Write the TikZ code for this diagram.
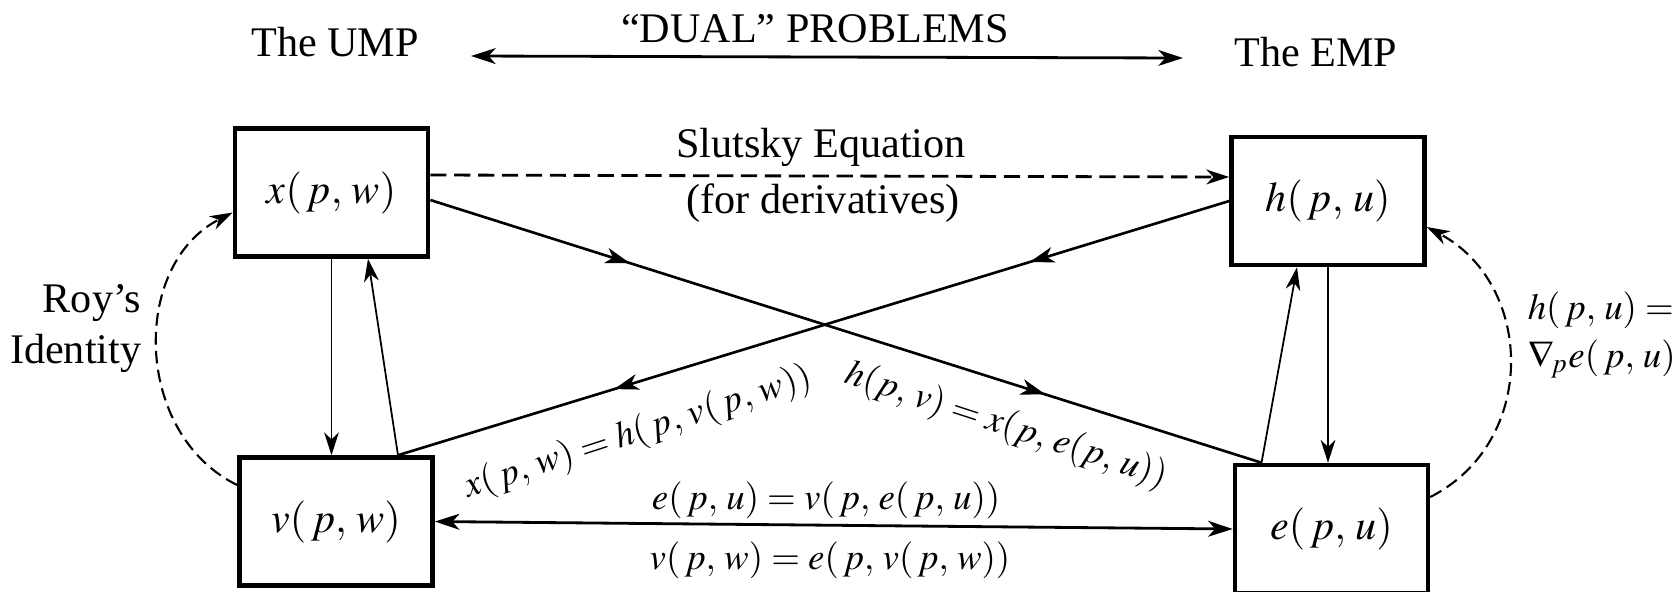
\documentclass[12pt,tikz,border=0pt]{standalone}
\usepackage{mathptmx}
\usepackage[no-math]{fontspec}
\setmainfont{Liberation Serif}
\usepackage{tikz}
\usetikzlibrary{arrows.meta, positioning, decorations.markings}
\tikzstyle{arrow}=[-{Stealth[length=6.5pt, width=4.2pt, inset=2pt]}, line width=0.5pt, color=black]

\begin{document}
\begin{tikzpicture}[
  fnbox/.style={rectangle, draw, line width=1.3pt, minimum width=1.93cm,
                minimum height=1.28cm, inner sep=0pt},
  eqlabel/.style={font=\fontsize{10.5}{12.5}\selectfont, inner sep=2pt},
  dashedarrow/.style={arrow, dash pattern=on 3.6pt off 1.8pt, line width=0.6pt},
  twoway/.style={arrow, {Stealth[length=7pt, width=4.5pt, inset=2pt]}-{Stealth[length=7pt, width=4.5pt, inset=2pt]}, line width=0.8pt},
  midarrows/.style={line width=0.75pt, postaction={decorate},
     decoration={markings,
       mark=at position 0.24 with {\arrow{Stealth[length=7pt, width=4.5pt, inset=2pt]}},
       mark=at position 0.74 with {\arrow{Stealth[length=7pt, width=4.5pt, inset=2pt]}}}}
]
\useasboundingbox (0,0) rectangle (16.75,-5.91);

% headings
\node (ump)  at (3.35,-0.42) {The UMP};
\node (dual) at (8.15,-0.29) {“DUAL” PROBLEMS};
\node (emp)  at (13.16,-0.52) {The EMP};
\coordinate (dl) at (4.71,-0.56);
\coordinate (dr) at (11.83,-0.58);

% the four functions
\node[fnbox] (xpw) at (3.315,-1.925) {$x(\,p,\, w)$};
\node[fnbox] (vpw) at (3.36,-5.215)  {$v(\,p,\, w)$};
\node[fnbox] (hpu) at (13.28,-2.01)  {$h(\,p,\, u)$};
\node[fnbox] (epu) at (13.315,-5.29) {$e(\,p,\, u)$};

% labels
\node (slut)  at (8.21,-1.47) {Slutsky Equation};
\node (deriv) at (8.23,-2.03) {(for derivatives)};
\node[align=right, anchor=east] (roy) at (1.56,-3.285) {Roy’s\\Identity};
\node[eqlabel, align=left, anchor=west] (grad) at (15.2,-3.35) {$h(\,p,\, u) =$\\[1pt]$\nabla_{\!p} e(\,p,\, u)$};
\node[eqlabel, rotate=18]  (eqxh) at (6.38,-4.33)  {$x(\,p,\, w) = h(\,p,\, v(\,p,\, w))$};
\node[eqlabel, rotate=-18] (eqhx) at (10.06,-4.26) {$h(p,\, v) = x(p,\, e(p,\, u))$};
\node[eqlabel] (eqev) at (8.26,-5.0) {$e(\,p,\, u) = v(\,p,\, e(\,p,\, u))$};
\node[eqlabel] (eqve) at (8.30,-5.6) {$v(\,p,\, w) = e(\,p,\, v(\,p,\, w))$};

\draw[twoway] (dl) -- (dr);
\draw[dashedarrow, dash pattern=on 4.6pt off 2.2pt, line width=0.8pt] ([yshift=0.175cm]xpw.east) -- ([yshift=0.24cm]hpu.west);
\draw[midarrows] ([yshift=-0.075cm]xpw.east) -- ([xshift=-0.7cm]epu.north);
\draw[midarrows] (hpu.west) -- ([xshift=0.62cm]vpw.north);
\draw[arrow] (xpw.south) -- (xpw.south |- vpw.north);
\draw[arrow] ([xshift=0.62cm]vpw.north) -- ([xshift=0.365cm]xpw.south);
\draw[arrow] (hpu.south) -- (hpu.south |- epu.north);
\draw[arrow] ([xshift=-0.7cm]epu.north) -- ([xshift=-0.31cm]hpu.south);
\draw[twoway] (vpw.east) -- (epu.west);
\draw[dashedarrow] ([yshift=0.365cm]vpw.west) to[out=154, in=207, looseness=1.08] ([yshift=-0.2cm]xpw.west);
\draw[dashedarrow] ([yshift=0.32cm]epu.east) to[out=27, in=-28, looseness=1.15] ([yshift=-0.26cm]hpu.east);
\end{tikzpicture}
\end{document}
